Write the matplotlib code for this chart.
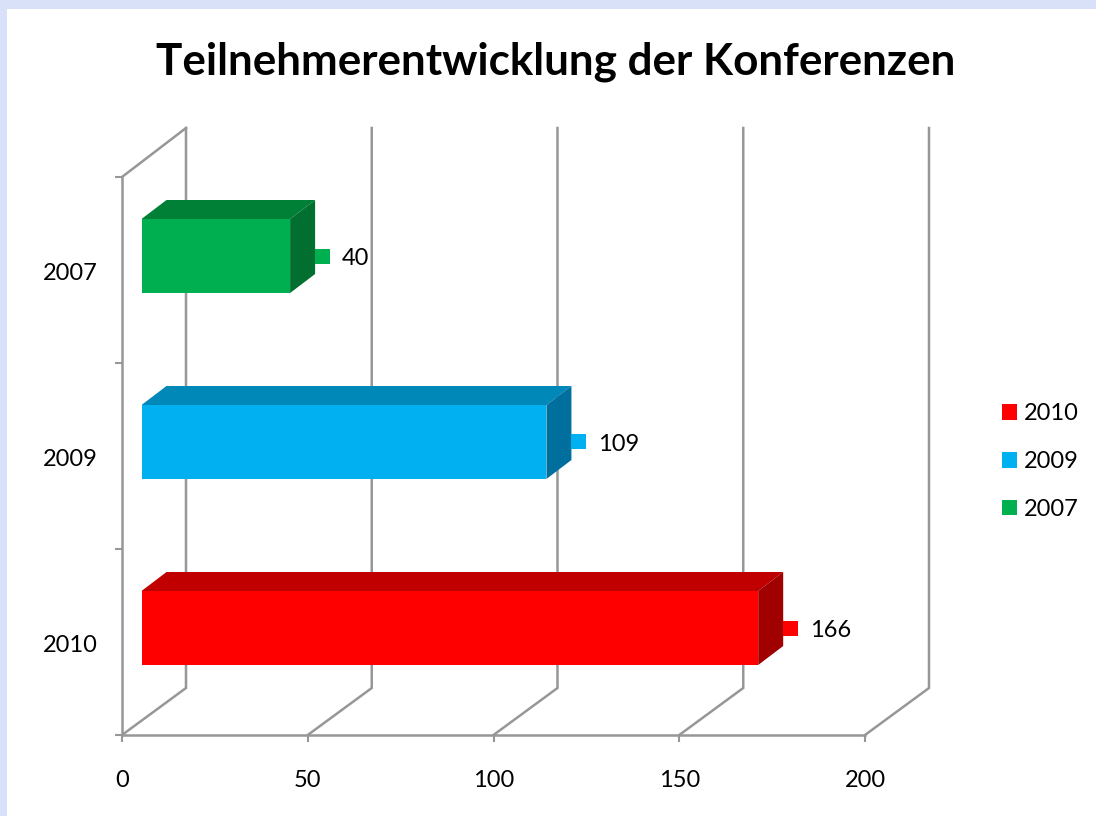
import matplotlib
import matplotlib.pyplot as plt
from matplotlib.patches import Patch, Polygon, Rectangle

matplotlib.use('Agg')
plt.rcParams['font.family'] = ['Lato', 'DejaVu Sans']

title = "Teilnehmerentwicklung der Konferenzen"
years = ["2010", "2009", "2007"]
participants = [166, 109, 40]
x_ticks = [0, 50, 100, 150, 200]

front_colors = ['#FF0000', '#00B0F0', '#00B050']
top_colors = ['#C00000', '#0088B8', '#008037']
side_colors = ['#A00000', '#006F9E', '#006F2F']
wall_color = '#979797'

W, H = 1096, 816
FS = 17

# pixel sizes of the fake 3d box, converted to data units below
PX_X = 743 / 200
PX_Y = 558 / 3
wall_dx, wall_dy = 64 / PX_X, 47 / PX_Y
wall_top = (735 - 128) / PX_Y
bar_start = 19.5 / PX_X
bar_dx, bar_dy = 25 / PX_X, 19 / PX_Y
bar_bottom, bar_height = 70 / PX_Y, 74 / PX_Y

fig = plt.figure(figsize=(W / 100, H / 100), dpi=100, facecolor='white')
ax = fig.add_axes([122 / W, (H - 735) / H, 743 / W, 558 / H])
ax.set_xlim(0, 200)
ax.set_ylim(0, 3)
ax.patch.set_visible(False)

# page border
fig.patches.append(Rectangle((0, 0), 7 / W, 1, transform=fig.transFigure, color='#D9E1F9', lw=0))
fig.patches.append(Rectangle((0, 1 - 9 / H), 1, 9 / H, transform=fig.transFigure, color='#D9E1F9', lw=0))

for v in x_ticks:
    ax.plot([v, v + wall_dx, v + wall_dx], [0, wall_dy, wall_top], color=wall_color, lw=1.8,
            clip_on=False, zorder=1, solid_joinstyle='miter')
ax.plot([0, wall_dx], [3, wall_top], color=wall_color, lw=1.8, clip_on=False, zorder=1)

for i, val in enumerate(participants):
    y0 = i + bar_bottom
    y1 = y0 + bar_height
    x0 = bar_start
    x1 = val + bar_start
    ax.barh(y0 + bar_height / 2, val, height=bar_height, left=x0, color=front_colors[i], zorder=3)
    ax.add_patch(Polygon([(x0, y1), (x1, y1), (x1 + bar_dx, y1 + bar_dy), (x0 + bar_dx, y1 + bar_dy)],
                         facecolor=top_colors[i], lw=0, zorder=3, clip_on=False))
    ax.add_patch(Polygon([(x1, y0), (x1 + bar_dx, y0 + bar_dy), (x1 + bar_dx, y1 + bar_dy), (x1, y1)],
                         facecolor=side_colors[i], lw=0, zorder=3, clip_on=False))
    # little legend key next to the value
    key_x = x1 + bar_dx
    ax.add_patch(Rectangle((key_x, y0 + bar_height / 2 - 7.5 / PX_Y), 15 / PX_X, 15 / PX_Y,
                           facecolor=front_colors[i], lw=0, zorder=3, clip_on=False))
    ax.text(key_x + 27 / PX_X, y0 + bar_height / 2 - 2.5 / PX_Y, str(val), fontsize=FS, va='center', ha='left',
            color='black', zorder=4)

for name in ('top', 'right'):
    ax.spines[name].set_visible(False)
for name in ('left', 'bottom'):
    ax.spines[name].set_color(wall_color)
    ax.spines[name].set_linewidth(1.8)

ax.set_xticks(x_ticks)
ax.set_yticks([0, 1, 2, 3])
ax.set_yticklabels([])
ax.set_yticks([0.49, 1.49, 2.49], labels=years, minor=True)
ax.tick_params(axis='both', which='major', color=wall_color, width=1.5, length=5, labelsize=FS)
ax.tick_params(axis='x', which='major', pad=20)
ax.tick_params(axis='y', which='minor', length=0, labelsize=FS, pad=17.5)

handles = [Patch(facecolor=c, lw=0) for c in front_colors]
leg = fig.legend(handles, years, loc='upper left', bbox_to_anchor=(995 / W, 1 - 396 / H),
                 frameon=False, fontsize=FS, handlelength=0.64, handleheight=0.64,
                 handletextpad=0.3, labelspacing=1.14, borderpad=0.3, borderaxespad=0)

fig.text(556 / W, 1 - 62 / H, title, fontsize=31.7, fontweight='bold', ha='center', va='center', color='black')

fig.savefig('out.png', dpi=100)
